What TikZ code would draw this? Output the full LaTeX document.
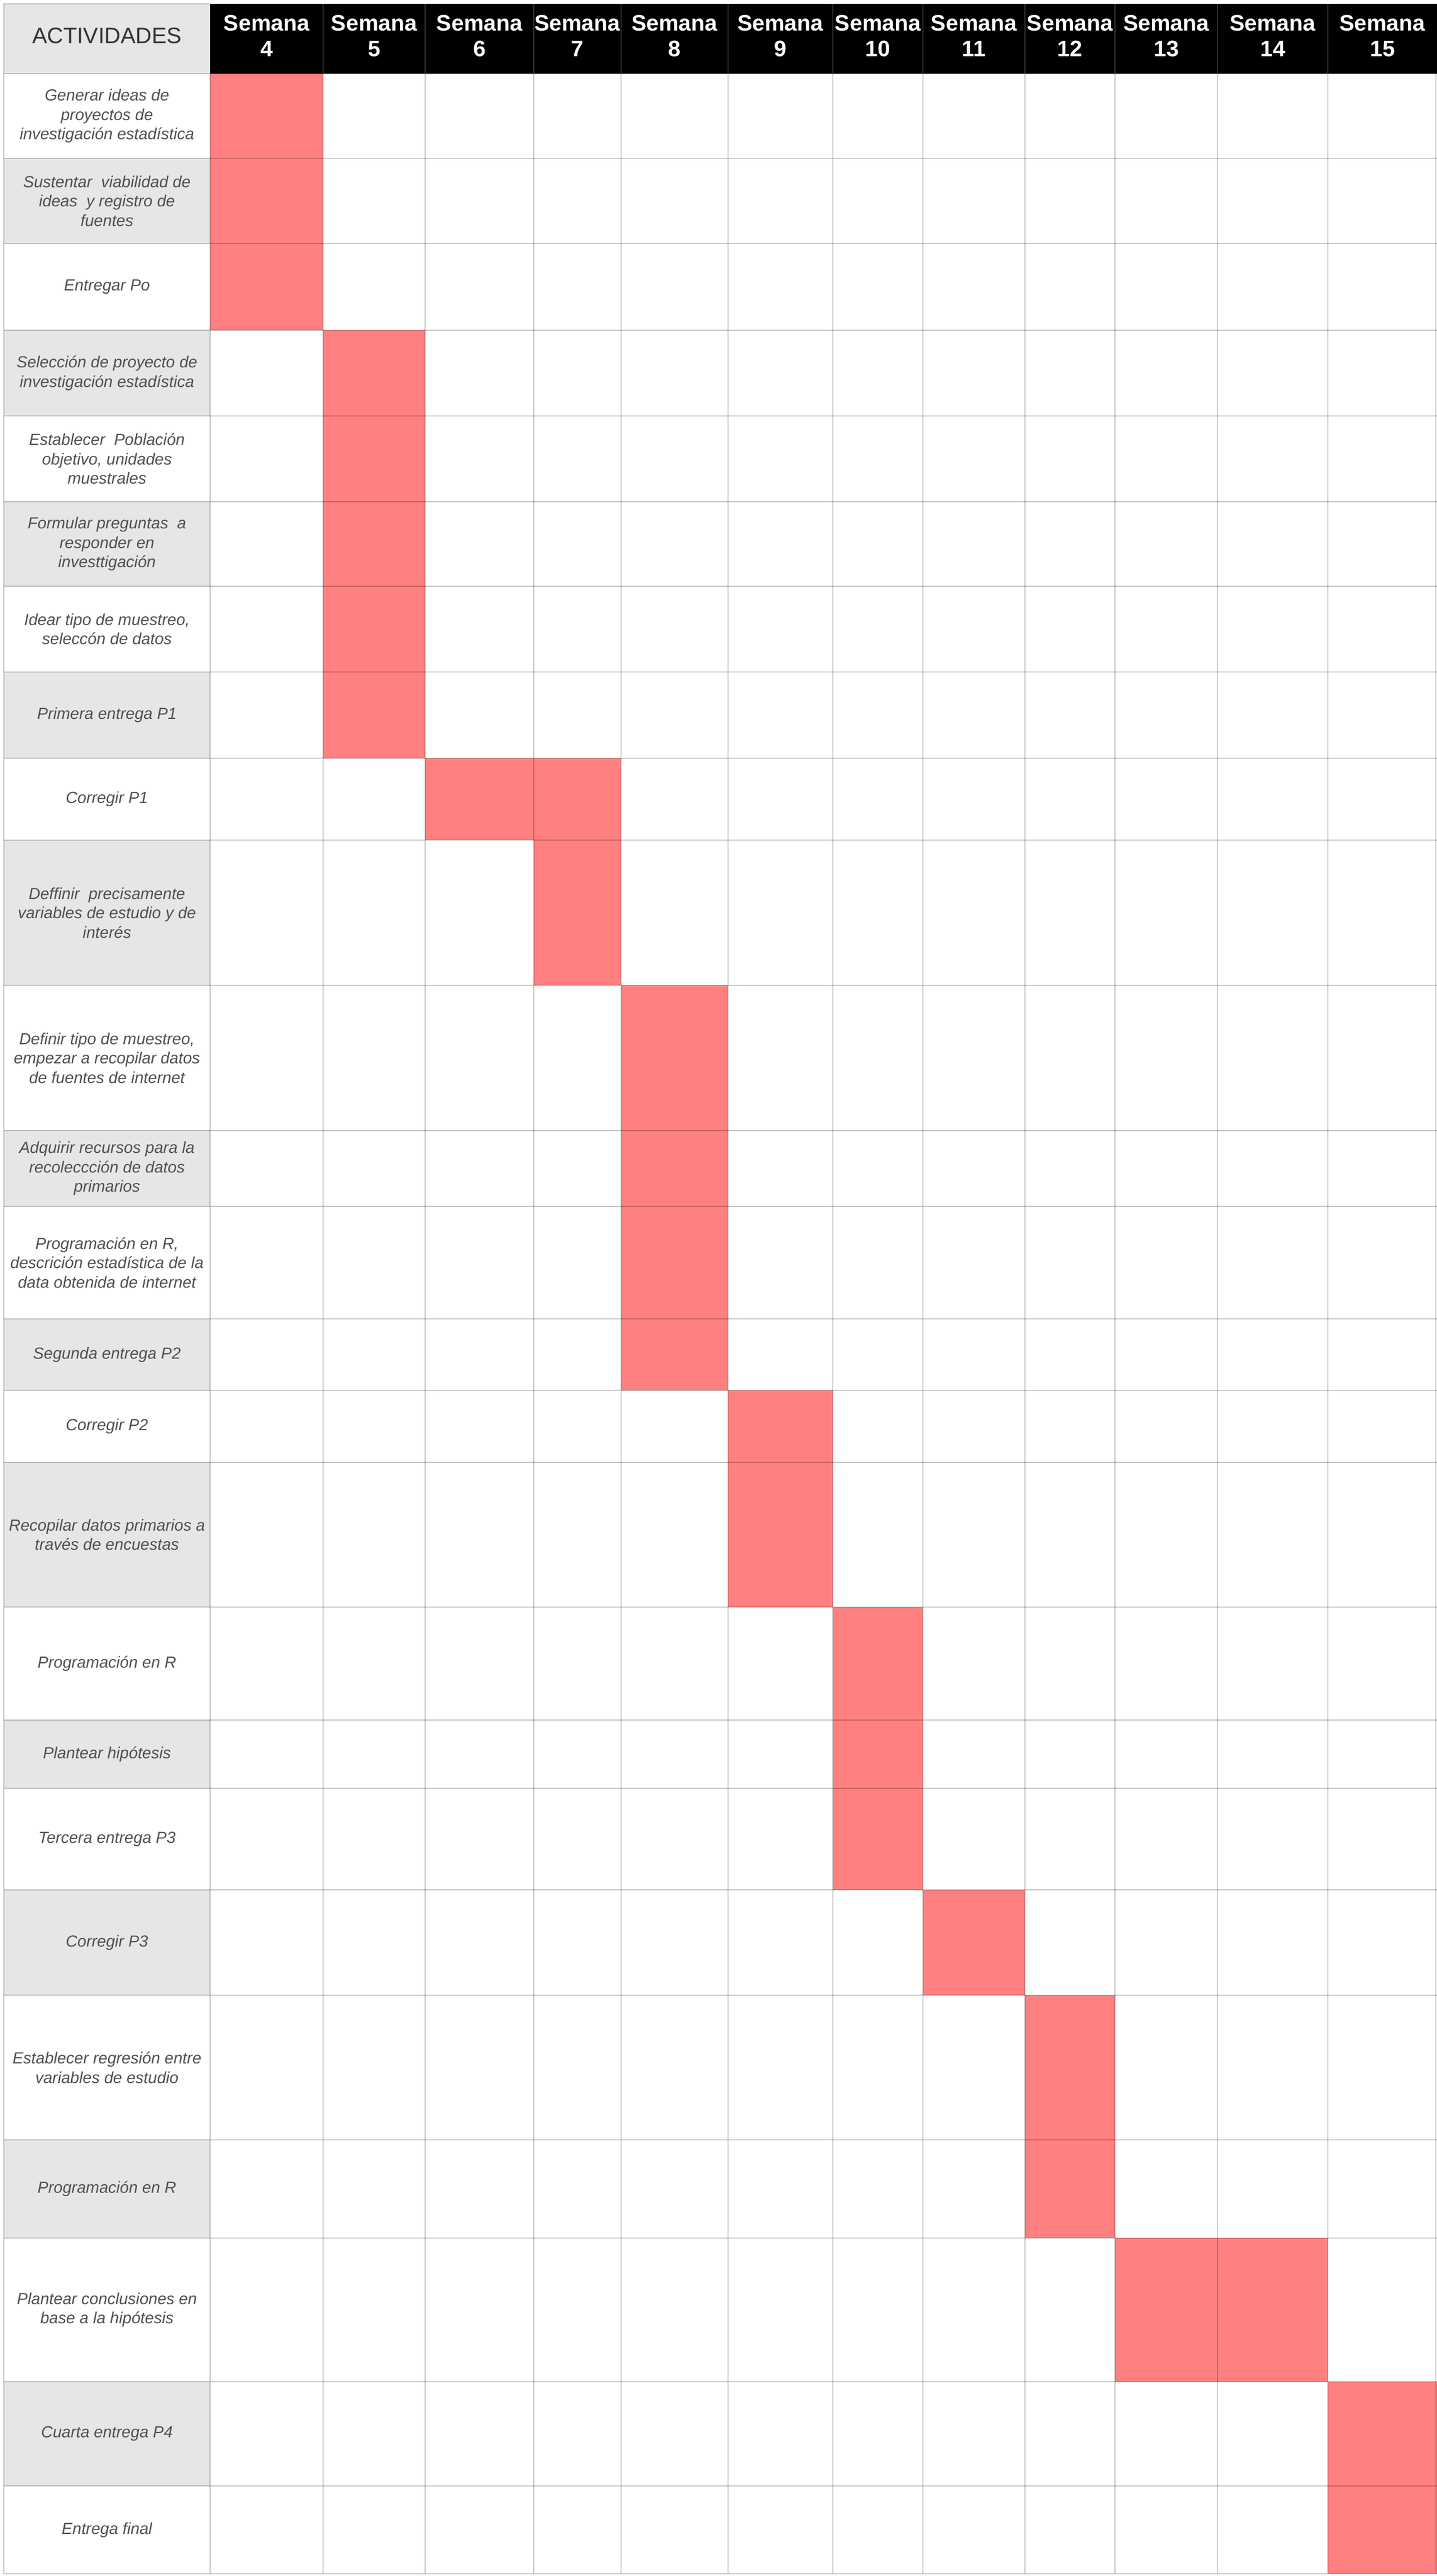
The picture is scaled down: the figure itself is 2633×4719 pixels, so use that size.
\documentclass[tikz,border=0pt]{standalone}
\usepackage{fontspec}
\setmainfont{Liberation Sans}
\definecolor{bar}{HTML}{FF8080}
\definecolor{rowgray}{HTML}{E6E6E6}
\definecolor{txt}{HTML}{505050}
\definecolor{hdtxt}{HTML}{333333}
\tikzset{
  act/.style={align=center, font=\fontsize{29.5}{35.5}\selectfont\itshape, text=txt, inner sep=0pt},
  wk/.style={align=center, font=\fontsize{41}{47}\selectfont\bfseries, text=white, inner sep=0pt},
  acthead/.style={font=\fontsize{41}{47}\selectfont, text=hdtxt, inner sep=0pt},
  gridline/.style={draw=black, draw opacity=0.22, line width=2.5pt},
  hdsep/.style={draw=black!80, line width=2pt},
  barcell/.style={fill=bar},
  shade/.style={fill=rowgray},
}
\begin{document}
\begin{tikzpicture}[x=1pt,y=-1pt]
\useasboundingbox (0,0) rectangle (2633,4719);
\fill[white] (0,0) rectangle (2633,4719);
% shaded activity cells
\fill[shade] (7,7) rectangle (385,135);
\foreach \a/\b in {290/446, 605/762, 919/1074, 1231/1389, 1539/1805, 2071/2210, 2416/2547, 2679/2944, 3151/3276, 3462/3655, 3920/4100, 4363/4554}
  \fill[shade] (7,\a) rectangle (385,\b);
% bars
\foreach \x/\y/\X/\Y in {385/135/592/605, 592/605/779/1389, 779/1389/1138/1539, 978/1539/1138/1805, 1138/1805/1334/2547, 1334/2547/1526/2944, 1526/2944/1691/3462, 1691/3462/1878/3655, 1878/3655/2043/4100, 2043/4100/2433/4363, 2433/4363/2633/4715}
  \fill[barcell] (\x,\y) rectangle (\X,\Y);
% header band
\fill[black] (385,7) rectangle (2633,135);
% grid
\foreach \y in {135,290,446,605,762,919,1074,1231,1389,1539,1805,2071,2210,2416,2547,2679,2944,3151,3276,3462,3655,3920,4100,4363,4554,4715}
  \draw[gridline] (7,\y) -- (2633,\y);
\foreach \x in {7,385,592,779,978,1138,1334,1526,1691,1878,2043,2231,2433,2631}
  \draw[gridline] (\x,135) -- (\x,4715);
\draw[gridline] (385,7) -- (7,7) -- (7,135);
\foreach \x in {592,779,978,1138,1334,1526,1691,1878,2043,2231,2433}
  \draw[hdsep] (\x,7) -- (\x,135);
% header texts
\node[acthead] (hact) at (196,65) {ACTIVIDADES};
\node[wk] (w4)  at (488.5,66) {Semana\\4};
\node[wk] (w5)  at (685.5,66) {Semana\\5};
\node[wk] (w6)  at (878.5,66) {Semana\\6};
\node[wk] (w7)  at (1058,66) {Semana\\7};
\node[wk] (w8)  at (1236,66) {Semana\\8};
\node[wk] (w9)  at (1430,66) {Semana\\9};
\node[wk] (w10) at (1608.5,66) {Semana\\10};
\node[wk] (w11) at (1784.5,66) {Semana\\11};
\node[wk] (w12) at (1960.5,66) {Semana\\12};
\node[wk] (w13) at (2137,66) {Semana\\13};
\node[wk] (w14) at (2332,66) {Semana\\14};
\node[wk] (w15) at (2533,66) {Semana\\15};
% activities
\node[act] (a1)  at (196,212.5) {Generar ideas de\\proyectos de\\investigación estadística};
\node[act] (a2)  at (196,368) {Sustentar~ viabilidad de\\ideas~ y registro de\\fuentes};
\node[act] (a3)  at (196,525.5) {Entregar Po};
\node[act] (a4)  at (196,683.5) {Selección de proyecto de\\investigación estadística};
\node[act] (a5)  at (196,840.5) {Establecer~ Población\\objetivo, unidades\\muestrales};
\node[act] (a6)  at (196,996.5) {Formular preguntas~ a\\responder en\\investtigación};
\node[act] (a7)  at (196,1152.5) {Idear tipo de muestreo,\\seleccón de datos};
\node[act] (a8)  at (196,1310) {Primera entrega P1};
\node[act] (a9)  at (196,1464) {Corregir P1};
\node[act] (a10) at (196,1672) {Deffinir~ precisamente\\variables de estudio y de\\interés};
\node[act] (a11) at (196,1938) {Definir tipo de muestreo,\\empezar a recopilar datos\\de fuentes de internet};
\node[act] (a12) at (196,2140.5) {Adquirir recursos para la\\recoleccción de datos\\primarios};
\node[act] (a13) at (196,2313) {Programación en R,\\descrición estadística de la\\data obtenida de internet};
\node[act] (a14) at (196,2481.5) {Segunda entrega P2};
\node[act] (a15) at (196,2613) {Corregir P2};
\node[act] (a16) at (196,2811.5) {Recopilar datos primarios a\\través de encuestas};
\node[act] (a17) at (196,3047.5) {Programación en R};
\node[act] (a18) at (196,3213.5) {Plantear hipótesis};
\node[act] (a19) at (196,3369) {Tercera entrega P3};
\node[act] (a20) at (196,3558.5) {Corregir P3};
\node[act] (a21) at (196,3787.5) {Establecer regresión entre\\variables de estudio};
\node[act] (a22) at (196,4010) {Programación en R};
\node[act] (a23) at (196,4231.5) {Plantear conclusiones en\\base a la hipótesis};
\node[act] (a24) at (196,4458.5) {Cuarta entrega P4};
\node[act] (a25) at (196,4634.5) {Entrega final};
\end{tikzpicture}
\end{document}
